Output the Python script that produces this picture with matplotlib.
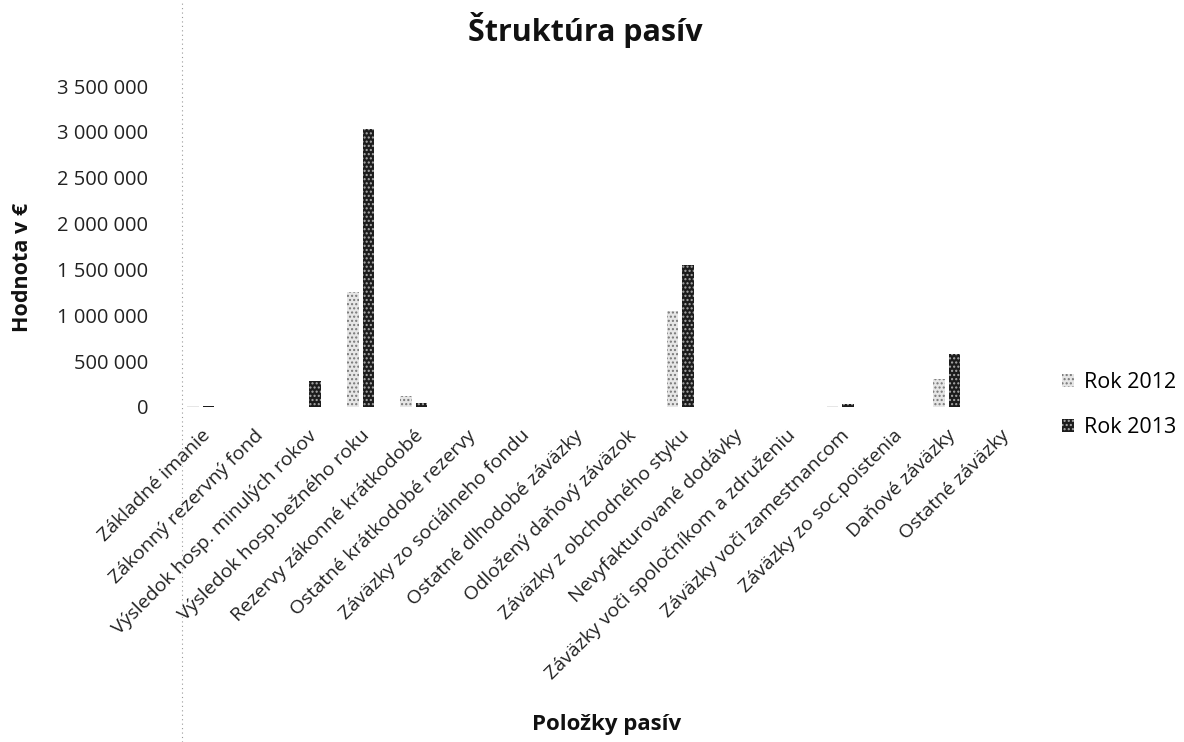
import matplotlib
matplotlib.use("Agg")
import matplotlib.pyplot as plt
import numpy as np
from matplotlib.lines import Line2D

plt.rcParams['font.family'] = ['Open Sans', 'DejaVu Sans']
plt.rcParams['hatch.linewidth'] = 1.0

categories = [
    "Základné imanie", "Zákonný rezervný fond", "Výsledok hosp. minulých rokov",
    "Výsledok hosp.bežného roku", "Rezervy zákonné krátkodobé",
    "Ostatné krátkodobé rezervy", "Záväzky zo sociálneho fondu",
    "Ostatné dlhodobé záväzky", "Odložený daňový záväzok",
    "Záväzky z obchodného styku", "Nevyfakturované dodávky",
    "Záväzky voči spoločníkom a združeniu", "Záväzky voči zamestnancom",
    "Záväzky zo soc.poistenia", "Daňové záväzky", "Ostatné záväzky",
]
rok_2012 = [8000, 0, 0, 1255000, 120000, 0, 0, 0, 0, 1050000, 0, 5000, 12000, 0, 300000, 0]
rok_2013 = [15000, 0, 280000, 3030000, 40000, 0, 0, 0, 0, 1545000, 0, 5000, 30000, 0, 580000, 0]
series_names = ["Rok 2012", "Rok 2013"]
yticks = [0, 500000, 1000000, 1500000, 2000000, 2500000, 3000000, 3500000]

def fmt(v):
    return f"{v:,}".replace(",", " ")

fig = plt.figure(figsize=(11.84, 7.42), dpi=100)
ax = fig.add_axes([0.147, 0.4515, 0.72, 0.4325])

x = np.arange(len(categories))
w = 0.215
off = 0.145
ax.bar(x - off, rok_2012, width=w, facecolor='#e6e6e6', edgecolor='#777777',
       hatch='....', linewidth=0, label=series_names[0])
ax.bar(x + off, rok_2013, width=w, facecolor='#1c1c1c', edgecolor='#aaaaaa',
       hatch='....', linewidth=0, label=series_names[1])

ax.set_xlim(-0.5, len(categories) - 0.5)
ax.set_ylim(0, 3500000)
ax.set_yticks(yticks)
ax.set_yticklabels([fmt(v) for v in yticks], fontsize=14.5, color='#222222')
ax.set_xticks(x)
ax.set_xticklabels(categories, rotation=45, ha='right', rotation_mode='anchor',
                   fontsize=14, color='#222222')
ax.tick_params(axis='both', length=0)
ax.tick_params(axis='x', pad=14)
ax.tick_params(axis='y', pad=18.5)
for s in ax.spines.values():
    s.set_visible(False)

fig.text(0.494, 0.96, "Štruktúra pasív", ha='center', va='center',
         fontsize=22, fontweight='bold', color='#111111')
fig.text(0.019, 0.639, "Hodnota v €", rotation=90, ha='center', va='center',
         fontsize=15.5, fontweight='bold', color='#111111')
fig.text(0.512, 0.023, "Položky pasív", ha='center', va='center',
         fontsize=16, fontweight='bold', color='#111111')

fig.legend(loc='center left', bbox_to_anchor=(0.897, 0.454), frameon=False,
           fontsize=15.5, handlelength=0.55, handleheight=0.55, labelspacing=1.1,
           handletextpad=0.45, borderpad=0, borderaxespad=0)

fig.add_artist(Line2D([182 / 1184, 182 / 1184], [0, 1], transform=fig.transFigure,
                      color='#999999', linestyle=(0, (1, 3)), linewidth=0.8))

fig.savefig("out.png", dpi=100)
